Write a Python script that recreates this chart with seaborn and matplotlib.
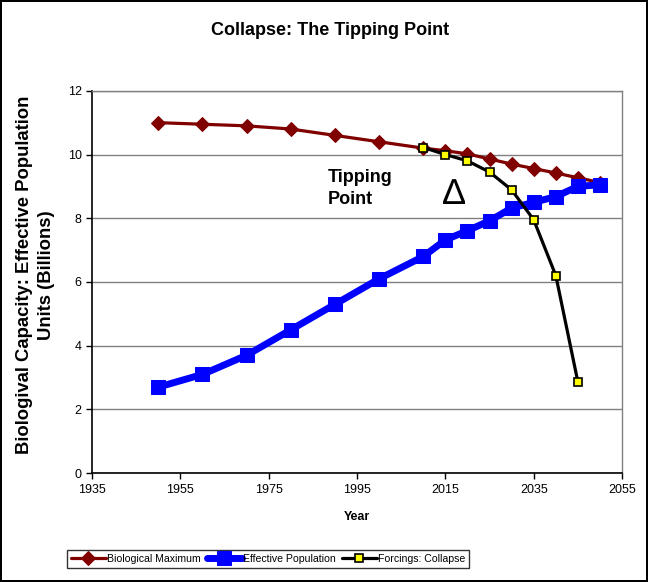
import matplotlib
matplotlib.use('Agg')
import matplotlib.pyplot as plt
import seaborn as sns

# dati
years = [1950, 1960, 1970, 1980, 1990, 2000, 2010, 2015, 2020, 2025, 2030, 2035, 2040, 2045, 2050]
bio_max = [11.0, 10.95, 10.9, 10.8, 10.6, 10.4, 10.2, 10.12, 10.02, 9.86, 9.7, 9.56, 9.42, 9.27, 9.12]
eff_pop = [2.7, 3.1, 3.7, 4.5, 5.3, 6.1, 6.8, 7.32, 7.61, 7.92, 8.32, 8.5, 8.68, 9.0, 9.05]
collapse_years = [2010, 2015, 2020, 2025, 2030, 2035, 2040, 2045]
collapse = [10.22, 10.0, 9.8, 9.45, 8.89, 7.95, 6.2, 2.86]

x_ticks = [1935, 1955, 1975, 1995, 2015, 2035, 2055]
y_ticks = [0, 2, 4, 6, 8, 10, 12]

sns.set_style('white')
plt.rcParams['font.family'] = ['Liberation Sans', 'DejaVu Sans']
plt.rcParams['text.color'] = 'black'
plt.rcParams['axes.labelcolor'] = 'black'
plt.rcParams['xtick.color'] = 'black'
plt.rcParams['ytick.color'] = 'black'

fig = plt.figure(figsize=(6.48, 5.82), dpi=100, edgecolor='black', linewidth=1.5)
ax = fig.add_axes([0.142, 0.187, 0.818, 0.657])

sns.lineplot(x=years, y=bio_max, ax=ax, color='#800000', lw=2.3, marker='D',
             markersize=7.5, markeredgecolor='#800000', label='Biological Maximum')
sns.lineplot(x=years, y=eff_pop, ax=ax, color='#0000FF', lw=5, marker='s',
             markersize=10, markeredgecolor='#0000FF', label='Effective Population')
sns.lineplot(x=collapse_years, y=collapse, ax=ax, color='black', lw=2.3, marker='s',
             markersize=5.5, markerfacecolor='#FFFF00', markeredgecolor='black',
             markeredgewidth=1.2, label='Forcings: Collapse')

ax.set_xlim(1935, 2055)
ax.set_ylim(0, 12)
ax.set_xticks(x_ticks)
ax.set_yticks(y_ticks)
ax.tick_params(axis='both', labelsize=9, direction='out', length=4, width=1, color='black')
ax.tick_params(axis='both', left=True, bottom=True)
ax.yaxis.grid(True, color='#808080', lw=1)
ax.set_axisbelow(True)
for s in ['left', 'bottom']:
    ax.spines[s].set_color('black')
    ax.spines[s].set_linewidth(1.2)
for s in ['top', 'right']:
    ax.spines[s].set_color('#808080')
    ax.spines[s].set_linewidth(1)

ax.set_xlabel('Year', fontsize=9, fontweight='bold', labelpad=11)
ax.set_ylabel('Biologival Capacity: Effective Population\nUnits (Billions)',
              fontsize=13.3, fontweight='bold', linespacing=1.35)
ax.yaxis.set_label_coords(-0.07, 0.518)
fig.suptitle('Collapse: The Tipping Point', fontsize=13, fontweight='bold', x=0.51, y=0.962)

ax.text(1988.4, 8.93, 'Tipping\nPoint', fontsize=13, fontweight='bold', ha='left',
        va='center', linespacing=1.4)
ax.text(2017, 8.75, '\u2206', fontsize=26, ha='center', va='center')

handles, labels = ax.get_legend_handles_labels()
ax.get_legend().remove()
leg = fig.legend(handles, labels, loc='lower left', bbox_to_anchor=(0.103, 0.024), ncol=3,
                 fontsize=7.6, frameon=True, fancybox=False, edgecolor='black',
                 handlelength=3.3, handletextpad=0.1, columnspacing=0.6, borderpad=0.4,
                 borderaxespad=0)
leg.get_frame().set_linewidth(1)

fig.savefig('out.png', dpi=100)
